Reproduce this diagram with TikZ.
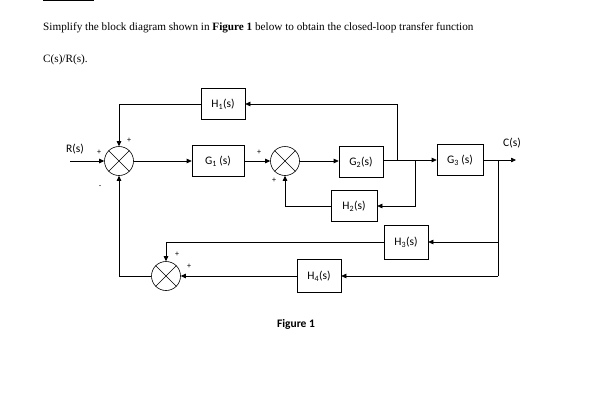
\documentclass[tikz,border=0pt]{standalone}
\usepackage{fontspec}
\setmainfont{Liberation Serif}
\newfontfamily\calibri{Carlito}
\usetikzlibrary{arrows.meta, positioning}
\tikzset{
  block/.style={draw, line width=0.6pt, minimum width=44pt, minimum height=31pt, inner sep=1pt, font=\calibri\fontsize{11.5}{13}\selectfont},
  summer/.style={draw, circle, line width=0.6pt, minimum size=29pt, inner sep=0pt},
  sig/.style={font=\calibri\fontsize{8}{9}\selectfont, inner sep=0pt},
  lbl/.style={font=\calibri\fontsize{11.5}{13}\selectfont, inner sep=0pt},
  wire/.style={line width=0.6pt},
  arr/.style={wire, -{Triangle[length=5pt,width=4.5pt]}}
}
\newcommand{\crossit}[1]{\draw[wire] (#1.north west) -- (#1.south east) (#1.north east) -- (#1.south west);}
\begin{document}
\begin{tikzpicture}[x=1pt,y=-1pt]
    \useasboundingbox (0,0) rectangle (599,410);
    % Question text
    \draw[line width=1.4pt] (43,0.5) -- (94,0.5);
    \node[anchor=base west, inner sep=0pt, font=\fontsize{11.2}{13}\selectfont] (q1) at (43,30)
      {Simplify the block diagram shown in \textbf{Figure 1} below to obtain the closed-loop transfer function};
    \node[anchor=base west, inner sep=0pt, font=\fontsize{11.2}{13}\selectfont] (q2) at (43,62) {C(s)/R(s).};

    % Summing points
    \node[summer] (sA) at (119,161) {};
    \node[summer] (sB) at (285,161) {};
    \node[summer] (sC) at (166,276) {};
    \crossit{sA} \crossit{sB} \crossit{sC}

    % Blocks
    \node[block] (h1) at (223,104) {H\textsubscript{1}(s)};
    \node[block, minimum width=52pt] (g1) at (218,161) {G\textsubscript{1} (s)};
    \node[block] (g2) at (361,162) {G\textsubscript{2}(s)};
    \node[block, minimum width=46pt] (g3) at (460,160) {G\textsubscript{3} (s)};
    \node[block, minimum width=46pt] (h2) at (354,206) {H\textsubscript{2}(s)};
    \node[block, minimum height=34pt] (h3) at (406,242) {H\textsubscript{3}(s)};
    \node[block, minimum height=33pt] (h4) at (319,276) {H\textsubscript{4}(s)};

    % Branch points
    \coordinate (in) at (70,161);
    \coordinate (bt) at (397,160);
    \coordinate (b2) at (415,160);
    \coordinate (bo) at (498,160);
    \coordinate (out) at (516,160);
    \coordinate (bb) at (498,276);

    % Forward path
    \draw[arr] (in) -- (sA);
    \draw[arr] (sA) -- (g1);
    \draw[arr] (g1) -- (sB);
    \draw[arr] (sB) -- (sB -| g2.west);
    \draw[arr] (g2.east |- g3.west) -- (g3.west);
    \draw[arr] (g3.east) -- (out);

    % Feedback loops
    \draw[arr] (bt) |- (h1.east);
    \draw[arr] (h1.west) -| (sA.north);
    \draw[arr] (b2) |- (h2.east);
    \draw[arr] (h2.west) -| (sB.south);
    \draw[wire] (bo) -- (bb);
    \draw[arr] (bo |- h3.east) -- (h3.east);
    \draw[arr] (h3.west) -| (sC.north);
    \draw[arr] (bb) -- (h4.east);
    \draw[arr] (h4.west) -- (sC.east);
    \draw[arr] (sC.west) -| (sA.south);

    % Signs
    \node[sig] (p1) at (99,152) {+};
    \node[sig] (p2) at (129,140) {+};
    \node[sig] (m1) at (100,187) {-};
    \node[sig] (p3) at (259,152) {+};
    \node[sig] (p4) at (274,180) {+};
    \node[sig] (p5) at (177,254) {+};
    \node[sig] (p6) at (189,266) {+};

    % Signal labels
    \node[lbl] (rs) at (75,149) {R(s)};
    \node[lbl] (cs) at (512,143) {C(s)};
    \node[lbl, font=\calibri\bfseries\fontsize{11.5}{13}\selectfont] (fig) at (296,324) {Figure 1};
\end{tikzpicture}
\end{document}
